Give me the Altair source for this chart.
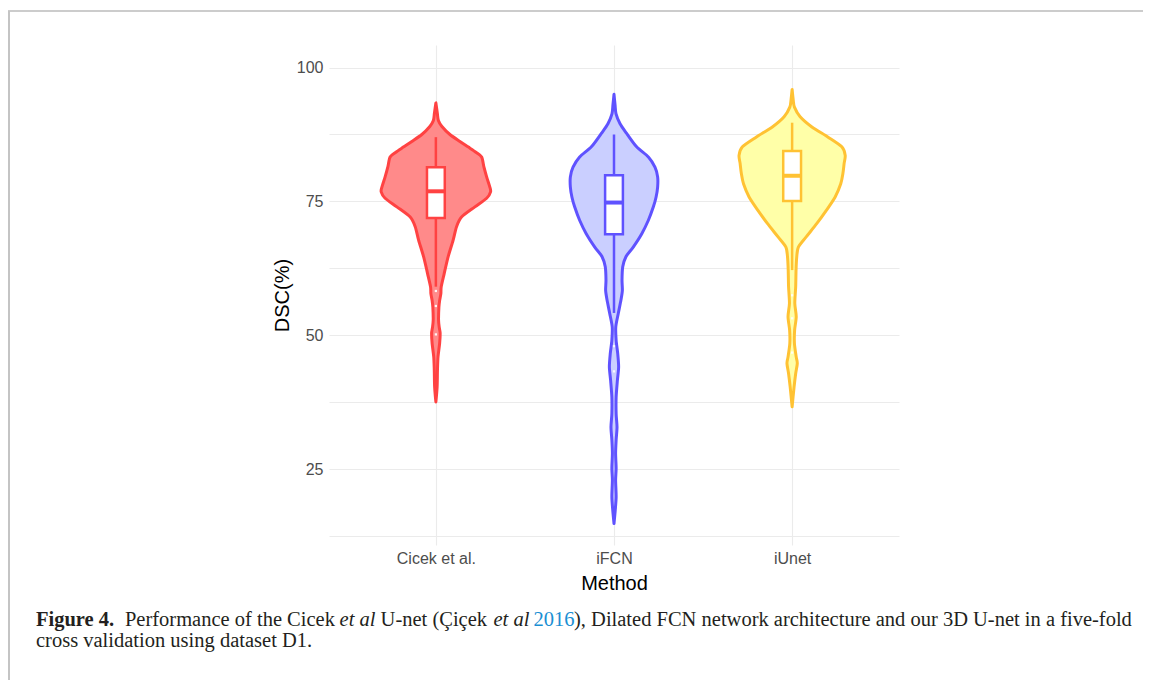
import altair as alt
import pandas as pd

# ---------------- data ----------------
methods = ["Cicek et al.", "iFCN", "iUnet"]
stroke_colors = ["#FF4242", "#5F52FF", "#FFC233"]
fill_colors = ["#FF8A8A", "#CACFFF", "#FFFFA8"]

# violin outlines: DSC value and half-width of the density (in category-width units)
cicek_dsc = [93.4, 91.5, 90.1, 89.0, 87.5, 86.2, 85.2, 84.2, 83.3, 81.4, 79.6, 77.7, 76.8, 75.6,
             74.0, 72.1, 70.3, 67.8, 64.7, 61.6, 59.1, 57.8, 56.5, 55.3, 52.9, 51.5, 50.4, 48.5,
             46.0, 43.6, 40.4, 37.6]
cicek_half = [0.0, 0.008, 0.014, 0.034, 0.079, 0.135, 0.180, 0.225, 0.257, 0.270, 0.285, 0.303,
              0.307, 0.285, 0.219, 0.144, 0.116, 0.097, 0.069, 0.047, 0.030, 0.028, 0.021, 0.017,
              0.015, 0.019, 0.024, 0.021, 0.012, 0.009, 0.007, 0.0]

ifcn_dsc = [95.0, 93.0, 91.4, 89.5, 87.7, 85.2, 83.3, 81.4, 79.6, 77.7, 75.8, 74.0, 71.5, 69.0,
            66.5, 64.7, 62.8, 60.3, 58.4, 56.6, 54.1, 51.6, 49.1, 46.6, 44.1, 41.6, 38.5, 35.4,
            32.9, 30.5, 28.0, 25.2, 23.0, 19.9, 17.4, 14.9]
ifcn_half = [0.0, 0.006, 0.011, 0.034, 0.071, 0.127, 0.193, 0.230, 0.245, 0.245, 0.236, 0.221,
             0.193, 0.156, 0.108, 0.067, 0.049, 0.045, 0.047, 0.039, 0.024, 0.010, 0.012, 0.021,
             0.026, 0.019, 0.012, 0.012, 0.017, 0.012, 0.009, 0.012, 0.009, 0.012, 0.007, 0.0]

iunet_dsc = [95.9, 94.0, 92.6, 90.8, 88.9, 87.0, 85.2, 83.6, 82.1, 80.2, 78.3, 75.8, 73.3, 70.9,
             68.4, 66.5, 64.7, 62.2, 59.1, 56.0, 53.5, 51.0, 48.5, 46.0, 44.8, 42.9, 40.4, 36.7]
iunet_half = [0.0, 0.006, 0.013, 0.045, 0.111, 0.202, 0.279, 0.298, 0.292, 0.285, 0.273, 0.241,
              0.191, 0.139, 0.079, 0.035, 0.026, 0.022, 0.020, 0.015, 0.023, 0.014, 0.013, 0.023,
              0.029, 0.020, 0.011, 0.0]

# box plot statistics
box_q1 = [71.9, 68.9, 75.1]
box_median = [76.9, 74.8, 79.8]
box_q3 = [81.4, 79.9, 84.4]
whisker_low = [59.1, 54.2, 62.2]
whisker_high = [87.0, 87.5, 89.7]

# outliers (drawn as small white points)
outlier_method = ["Cicek et al.", "Cicek et al.", "Cicek et al.", "iFCN", "iFCN", "iUnet", "iUnet", "iUnet"]
outlier_dsc = [58.3, 55.5, 50.2, 43.3, 48.0, 57.5, 53.2, 46.8]

BOX_HALF = 0.05

# ---------------- tables ----------------
rows = []
for i, (d, h) in enumerate([(cicek_dsc, cicek_half), (ifcn_dsc, ifcn_half), (iunet_dsc, iunet_half)]):
    for v, w in zip(d, h):
        rows.append({"method": methods[i], "pos": i + 1, "dsc": v, "half": w})
violin_df = pd.DataFrame(rows).sort_values(["pos", "dsc"])

box_df = pd.DataFrame({
    "method": methods, "pos": [1, 2, 3], "q1": box_q1, "med": box_median, "q3": box_q3,
    "lo": whisker_low, "hi": whisker_high,
})
out_df = pd.DataFrame({"method": outlier_method, "dsc": outlier_dsc})
out_df["pos"] = out_df["method"].map({m: i + 1 for i, m in enumerate(methods)})

label_expr = "[" + ",".join("'" + m + "'" for m in methods) + "][datum.value - 1]"

xscale = alt.Scale(domain=[0.4, 3.6], nice=False, zero=False)
yscale = alt.Scale(domain=[10.9, 104.2], nice=False, zero=False)
stroke_scale = alt.Scale(domain=methods, range=stroke_colors)
fill_scale = alt.Scale(domain=methods, range=fill_colors)

x_axis = alt.Axis(values=[1, 2, 3], labelExpr=label_expr, title="Method", grid=True,
                  gridColor="#EBEBEB", gridWidth=1.1, domain=False, ticks=False,
                  labelFont="Liberation Sans", labelFontSize=16, labelColor="#4D4D4D",
                  labelPadding=5, titleFont="Liberation Sans", titleFontSize=20,
                  titleFontWeight="normal", titleColor="#000000", titleBaseline="middle",
                  titleY=38)
y_axis = alt.Axis(values=[12.5, 25, 37.5, 50, 62.5, 75, 87.5, 100],
                  labelExpr="datum.value % 25 == 0 ? datum.label : ''", title="DSC(%)",
                  grid=True, gridColor="#EBEBEB", gridWidth=1.1, domain=False, ticks=False,
                  labelFont="Liberation Sans", labelFontSize=16, labelColor="#4D4D4D",
                  labelPadding=6, titleFont="Liberation Sans", titleFontSize=20,
                  titleFontWeight="normal", titleColor="#000000", titleX=-47, titleY=250,
                  titleAlign="center", titleBaseline="middle", titleAngle=270)

violin = alt.Chart(violin_df).transform_calculate(
    left="datum.pos - datum.half", right="datum.pos + datum.half"
).mark_area(orient="horizontal", interpolate="cardinal", tension=0.2, strokeWidth=3,
            strokeJoin="round", strokeCap="round").encode(
    y=alt.Y("dsc:Q", scale=yscale, axis=y_axis),
    x=alt.X("left:Q", scale=xscale, axis=x_axis),
    x2="right:Q",
    fill=alt.Fill("method:N", scale=fill_scale, legend=None),
    stroke=alt.Stroke("method:N", scale=stroke_scale, legend=None),
    detail="method:N",
)

whisker = alt.Chart(box_df).mark_rule(strokeWidth=2.5).encode(
    x=alt.X("pos:Q", scale=xscale), y=alt.Y("lo:Q", scale=yscale), y2="hi:Q",
    stroke=alt.Stroke("method:N", scale=stroke_scale, legend=None),
)

box = alt.Chart(box_df).transform_calculate(
    bl=f"datum.pos - {BOX_HALF}", br=f"datum.pos + {BOX_HALF}"
).mark_rect(fill="white", strokeWidth=2.5).encode(
    x=alt.X("bl:Q", scale=xscale), x2="br:Q",
    y=alt.Y("q1:Q", scale=yscale), y2="q3:Q",
    stroke=alt.Stroke("method:N", scale=stroke_scale, legend=None),
)

median = alt.Chart(box_df).transform_calculate(
    bl=f"datum.pos - {BOX_HALF}", br=f"datum.pos + {BOX_HALF}"
).mark_rule(strokeWidth=4).encode(
    x=alt.X("bl:Q", scale=xscale), x2="br:Q",
    y=alt.Y("med:Q", scale=yscale),
    stroke=alt.Stroke("method:N", scale=stroke_scale, legend=None),
)

outliers = alt.Chart(out_df).mark_square(size=5, color="white", opacity=0.9).encode(
    x=alt.X("pos:Q", scale=xscale), y=alt.Y("dsc:Q", scale=yscale),
)

# ---------------- frame and caption ----------------
one = pd.DataFrame({"k": [0]})
frame_top = alt.Chart(one).mark_rule(color="#9A9A9A", strokeWidth=1.2).encode(
    x=alt.value(-321), x2=alt.value(814), y=alt.value(-34))
frame_left = alt.Chart(one).mark_rule(color="#C4C4C4", strokeWidth=2).encode(
    x=alt.value(-320), y=alt.value(-34), y2=alt.value(640))

CAP_FONT = "Liberation Serif"
CAP_SIZE = 20.5
CAP_COLOR = "#231F20"


def seg(text, x, y, weight="normal", style="normal", color=CAP_COLOR):
    return alt.Chart(pd.DataFrame({"t": [text]})).mark_text(
        align="left", baseline="alphabetic", font=CAP_FONT, fontSize=CAP_SIZE,
        fontWeight=weight, fontStyle=style, color=color,
    ).encode(x=alt.value(x), y=alt.value(y), text="t:N")


L1 = 581
L2 = 602
caption = [
    seg("Figure 4.", -293, L1, weight="bold"),
    seg("Performance of the Cicek", -204.1, L1),
    seg("et al", 10.6, L1, style="italic"),
    seg("U-net (Çiçek", 51.6, L1),
    seg("et al", 164.5, L1, style="italic"),
    seg("2016", 204.5, L1, color="#1A8FD3"),
    seg("), Dilated FCN network architecture and our 3D U-net in a five-fold", 245, L1),
    seg("cross validation using dataset D1.", -293, L2),
]

chart = alt.layer(
    violin, whisker, box, median, outliers, frame_top, frame_left, *caption
).properties(
    width=570, height=500,
    autosize=alt.AutoSizeParams(type="none"),
    padding={"left": 321, "top": 37, "right": 244, "bottom": 135},
).configure_view(strokeWidth=0)

chart.save("out.html", embed_options={"renderer": "svg", "actions": False})
